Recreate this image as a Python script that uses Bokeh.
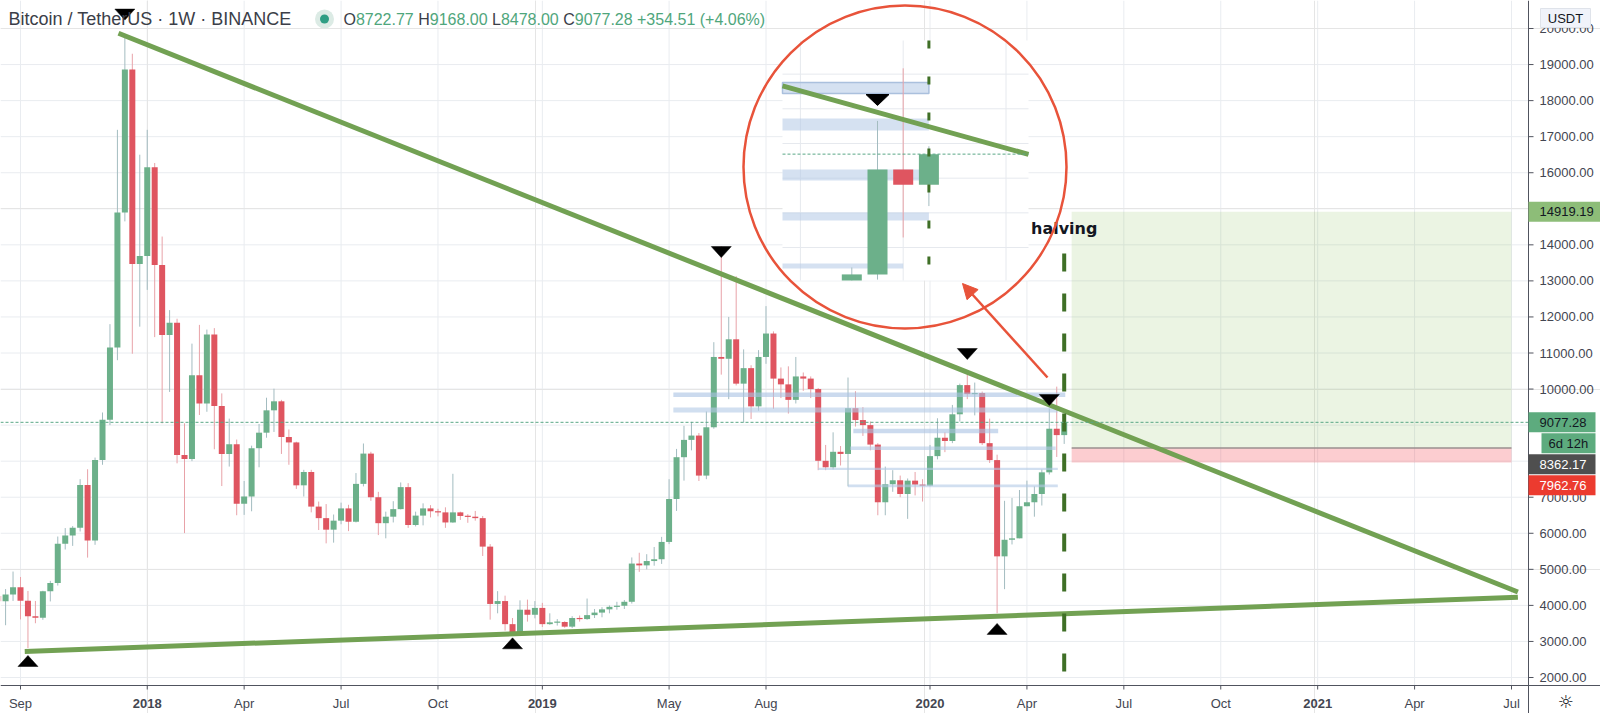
import pandas as pd
from bokeh.plotting import figure
from bokeh.models import Range1d, Arrow, NormalHead, ColumnDataSource
from bokeh.core.properties import value
from bokeh.embed import file_html
from bokeh.resources import INLINE

# ------------------------------------------------------------------ data
first_week = "2017-08-14"   # one weekly candle per week starting here

opens = [4261, 4115, 4300, 4502, 4130, 3700, 3654, 4392, 4622, 5710, 5940, 6150, 7341, 5802, 8032, 9150, 11150, 14900, 18860, 13470,
         13690, 16150, 13440, 11500, 11840, 8170, 8060, 10380, 9600, 11510, 9530, 8200, 8470, 6820, 7020, 8360, 8790, 9410, 9660, 8670,
         8520, 7330, 7700, 6740, 6420, 6100, 6350, 6690, 6320, 7370, 8210, 7000, 6280, 6460, 6670, 7280, 6230, 6490, 6690, 6610,
         6580, 6300, 6580, 6480, 6460, 6420, 5630, 4040, 4120, 3480, 3190, 3880, 3740,
         3930, 3480, 3530, 3540, 3410, 3650, 3620, 3730, 3800, 3890, 3960, 3990, 4100, 5160, 5110, 5230, 5280, 5760, 6950, 8110,
         8590, 8710, 7600, 8940, 10890, 10840, 11380, 10150, 10580, 9520, 10890, 11540, 10290, 10130, 9700, 10350, 10290, 10000, 8010, 7830,
         8260, 8200, 9470, 9140, 9000, 8460, 6860, 7360, 7470, 7090, 7460, 7350,
         7320, 8140, 8650, 8560, 9300, 10110, 9860, 9890, 8500, 8030, 5360, 5820, 5860, 6750, 6860, 7090, 7690, 8900, 8722.77]
highs = [4485, 4453, 4939, 4788, 4400, 4123, 4406, 4680, 5910, 6145, 6200, 7500, 7776, 8100, 9350, 11800, 17190, 19790, 19300, 16500,
         17190, 16270, 14230, 12190, 11950, 9050, 11260, 11780, 11650, 11690, 9880, 9180, 8600, 7450, 8430, 9030, 9760, 10010, 9700, 8880,
         8540, 7760, 7760, 6880, 6810, 6520, 6850, 6790, 7670, 8490, 8260, 7150, 6600, 6890, 7410, 7390, 6600, 6830, 6780, 6680,
         6720, 7650, 6600, 6530, 6620, 6480, 5700, 4395, 4270, 3650, 4140, 4160, 4120,
         4070, 3780, 3620, 3560, 3700, 3720, 4190, 3900, 3950, 4000, 4100, 4150, 5330, 5460, 5420, 5620, 5900, 7500, 8340, 8980,
         9090, 8780, 9380, 11300, 13960, 12000, 13130, 11100, 10660, 11080, 12300, 11600, 10600, 10630, 10890, 10460, 10350, 10030, 8450, 8800,
         8420, 10320, 9940, 9500, 9100, 8500, 7850, 7750, 7600, 7520, 7700, 7500,
         8450, 9190, 8800, 9560, 10150, 10480, 10180, 9930, 9180, 8180, 6900, 6980, 7200, 7460, 7300, 7770, 9460, 10067, 9168.00]
lows = [3850, 3450, 4124, 3610, 2817, 3505, 3600, 4110, 4550, 5550, 5650, 6050, 5325, 5680, 7900, 9000, 10800, 14650, 10980, 11730,
        12750, 11440, 9050, 9920, 7940, 6005, 8000, 9280, 9370, 8330, 7310, 7850, 6500, 6510, 6610, 7830, 8650, 8810, 8200, 7900,
        7230, 7020, 6580, 6090, 5720, 5740, 6250, 6060, 6300, 7300, 6900, 5950, 5860, 6300, 6660, 6150, 6190, 6220, 6440, 6470,
        6150, 6290, 6370, 6290, 6350, 5370, 3605, 3780, 3300, 3156, 3180, 3550, 3640,
        3400, 3460, 3440, 3380, 3370, 3550, 3600, 3650, 3670, 3780, 3880, 3900, 4050, 4930, 5000, 5100, 5150, 5700, 6620, 7460,
        8300, 7450, 7500, 8900, 10400, 9720, 10100, 9070, 9170, 9400, 10700, 9450, 9750, 9320, 9600, 9950, 9750, 7750, 7750, 7770,
        7880, 7300, 8960, 8700, 8300, 6500, 6500, 7150, 7000, 6400, 7050, 6880,
        7300, 8050, 8250, 8500, 9100, 9720, 9270, 8450, 7950, 3782, 4450, 5690, 5860, 6750, 6460, 6770, 7630, 8116, 8478.00]
closes = [4115, 4300, 4502, 4130, 3700, 3654, 4392, 4622, 5710, 5940, 6150, 7341, 5802, 8032, 9150, 11150, 14900, 18860, 13470, 13690,
          16150, 13440, 11500, 11840, 8170, 8060, 10380, 9600, 11510, 9530, 8200, 8470, 6820, 7020, 8360, 8790, 9410, 9660, 8670, 8520,
          7330, 7700, 6740, 6420, 6100, 6350, 6690, 6320, 7370, 8210, 7000, 6280, 6460, 6670, 7280, 6230, 6490, 6690, 6610, 6580,
          6300, 6580, 6480, 6460, 6420, 5630, 4040, 4120, 3480, 3190, 3880, 3740, 3930,
          3480, 3530, 3540, 3410, 3650, 3620, 3730, 3800, 3890, 3960, 3990, 4100, 5160, 5110, 5230, 5280, 5760, 6950, 8110, 8590,
          8710, 7600, 8940, 10890, 10840, 11380, 10150, 10580, 9520, 10890, 11540, 10290, 10130, 9700, 10350, 10290, 10000, 8010, 7830, 8260,
          8200, 9470, 9140, 9000, 8460, 6860, 7360, 7470, 7090, 7460, 7350, 7320,
          8140, 8650, 8560, 9300, 10110, 9860, 9890, 8500, 8030, 5360, 5820, 5860, 6750, 6860, 7090, 7690, 8900, 8722.77, 9077.28]

tick_dates = ["2017-09-04", "2018-01-01", "2018-04-02", "2018-07-02", "2018-10-01", "2019-01-07", "2019-05-06",
              "2019-08-05", "2020-01-06", "2020-04-06", "2020-07-06", "2020-10-05", "2021-01-04", "2021-04-05", "2021-07-05"]
tick_labels = ["Sep", "2018", "Apr", "Jul", "Oct", "2019", "May", "Aug", "2020", "Apr", "Jul", "Oct", "2021", "Apr", "Jul"]
price_ticks = list(range(2000, 20001, 1000))

# horizontal zones (price low/high, start, end, end inside the zoomed inset)
band_lo = [9777, 9350, 8773, 8312, 7758, 7280]
band_hi = [9903, 9488, 8900, 8404, 7816, 7350]
band_start = ["2019-05-10", "2019-05-10", "2019-10-26", "2019-10-23", "2019-09-23", "2019-10-21"]
band_end = ["2020-05-12", "2020-05-05", "2020-03-10", "2020-05-03", "2020-05-05", "2020-05-05"]
band_end_inset = ["2020-05-11", "2020-05-11", "2020-05-09", "2020-05-11", "2020-05-04", "2020-05-05"]

# trend lines (date, price) -> (date, price)
resist = (("2017-12-05", 19867), ("2021-07-11", 4370))
support = (("2017-09-08", 2721), ("2021-07-11", 4225))

# pivot markers: date, tip price, direction
mark_dates = ["2017-12-11", "2017-09-11", "2018-12-10", "2019-06-24", "2020-02-10", "2020-03-09", "2020-04-27"]
mark_tips = [20233, 2610, 3100, 13647, 10819, 3500, 9543]
mark_down = [True, False, False, True, True, False, True]
inset_mark = ("2020-04-27", 9638)

halving_date = "2020-05-11"
halving_top, halving_bottom = 13758, 2111
box_start, box_end = "2020-05-18", "2021-07-05"
target_price, entry_price, stop_price = 14919.19, 8362.17, 7962.76
countdown = "6d 12h"
currency = "USDT"

# ------------------------------------------------------------------ layout helpers
W, H = 1600, 713
REF = pd.Timestamp("2017-09-04")
DAY_MS = 86400000.0
X_AT_REF, PX_DAY = 20.0, 1.065          # px of REF date, px per day
Y_AT_2000, PX_USD = 677.0, 649.0 / 18000.0
AX_X = 1528                              # price-scale line
TA_Y = 685                               # time-axis line


def day_of(s):
    return (pd.Timestamp(s) - REF).total_seconds() / 86400.0


def ms_of_day(d):
    return REF.value / 1e6 + d * DAY_MS


def dx(s):
    return ms_of_day(day_of(s))


def px2x(px):
    return ms_of_day((px - X_AT_REF) / PX_DAY)


def px2y(py):
    return 2000 + (Y_AT_2000 - py) / PX_USD


def y2px(v):
    return Y_AT_2000 - (v - 2000) * PX_USD


# inset (zoomed copy) mapping
IN_D0, IN_KX = 966.0, 25.7 / 7.0
IN_X0 = 877.0
IN_P0, IN_KY = 8900.0, 0.0867
IN_Y0 = 169.0
IN_L, IN_R, IN_T, IN_B = 782.0, 1028.0, 40.0, 280.0


def inset_px(d):
    return IN_X0 + (d - IN_D0) * IN_KX


def inset_py(v):
    return IN_Y0 - (v - IN_P0) * IN_KY


UP, DOWN = "#6cb08a", "#df5560"
UP_WICK, DOWN_WICK = "#a3bcc0", "#e8a2a8"
LINE_GREEN = "#72a153"
GRID = "#e9ecf0"
AXIS = "#50535e"
LABEL = "#434651"
FONT = "Liberation Sans"

p = figure(x_axis_type="datetime", x_range=Range1d(px2x(0), px2x(W)),
           y_range=Range1d(px2y(H), px2y(0)), width=W, height=H,
           x_axis_location=None, y_axis_location=None, toolbar_location=None,
           output_backend="svg", min_border=0)
p.outline_line_color = None
p.background_fill_color = "white"
p.border_fill_color = "white"

# ------------------------------------------------------------------ grids
tx = [dx(t) for t in tick_dates]
n = len(price_ticks)
p.segment(x0=[px2x(0)] * n, y0=price_ticks, x1=[px2x(AX_X)] * n, y1=price_ticks,
          line_color=GRID, line_width=1, level="underlay")
p.segment(x0=tx, y0=[px2y(TA_Y)] * len(tx), x1=tx, y1=[px2y(0)] * len(tx),
          line_color=GRID, line_width=1, level="underlay")

# ------------------------------------------------------------------ position tool boxes
p.quad(left=[dx(box_start)], right=[dx(box_end)], bottom=[entry_price], top=[target_price],
       fill_color="#7cb342", fill_alpha=0.15, line_color=None)
p.quad(left=[dx(box_start)], right=[dx(box_end)], bottom=[stop_price], top=[entry_price],
       fill_color="#f23645", fill_alpha=0.25, line_color=None)
p.segment(x0=[dx(box_start)], y0=[entry_price], x1=[dx(box_end)], y1=[entry_price],
          line_color="#9a8f8f", line_width=1.5)

# ------------------------------------------------------------------ candles
wd = [day_of(first_week) + 7 * i for i in range(len(opens))]
xs = [ms_of_day(d) for d in wd]
min_h = 1.2 / PX_USD
tops, bots = [], []
for o, c in zip(opens, closes):
    t, b = max(o, c), min(o, c)
    if t - b < min_h:
        m = (t + b) / 2
        t, b = m + min_h / 2, m - min_h / 2
    tops.append(t)
    bots.append(b)
cols = [UP if c >= o else DOWN for o, c in zip(opens, closes)]
wcols = [UP_WICK if c >= o else DOWN_WICK for o, c in zip(opens, closes)]
src = ColumnDataSource(dict(x=xs, top=tops, bottom=bots, high=highs, low=lows, color=cols, wick=wcols))
p.segment(x0="x", y0="low", x1="x", y1="high", line_color="wick", line_width=1, source=src)
p.vbar(x="x", width=6.0 / PX_DAY * DAY_MS, top="top", bottom="bottom", fill_color="color",
       line_color=None, source=src)

# zones
band_fill = ["#a9c2e2", "#b3c9e6", "#a9c2e2", "#b3c9e6", "#b3c9e6", "#b3c9e6"]
p.quad(left=[dx(s) for s in band_start], right=[dx(e) for e in band_end],
       bottom=band_lo, top=band_hi, fill_color=band_fill, fill_alpha=0.6, line_color=None)

# trend lines
for (a, b) in (resist, support):
    p.segment(x0=[dx(a[0])], y0=[a[1]], x1=[dx(b[0])], y1=[b[1]], line_color=LINE_GREEN, line_width=5)

# halving line + label
hx = dx(halving_date)
p.segment(x0=[hx], y0=[halving_top], x1=[hx], y1=[halving_bottom], line_color="#3f6f26",
          line_width=4, line_dash="18 22")
p.text(x=[hx], y=[px2y(227.5)], text=["halving"], text_font=value("DejaVu Sans"),
       text_font_size=value("16px"), text_font_style="bold", text_color="#131722",
       text_align="center", text_baseline="middle")

# pivot markers
half_w = 10.0 / PX_DAY
tri_h = 11.0 / PX_USD
txs, tys = [], []
for dstr, tip, dn in zip(mark_dates, mark_tips, mark_down):
    d = day_of(dstr)
    base = tip + tri_h if dn else tip - tri_h
    txs.append([ms_of_day(d - half_w), ms_of_day(d + half_w), ms_of_day(d)])
    tys.append([base, base, tip])
p.patches(xs=txs, ys=tys, fill_color="black", line_color="black", line_width=0.5)

# current price line
p.segment(x0=[px2x(0)], y0=[closes[-1]], x1=[px2x(AX_X)], y1=[closes[-1]],
          line_color="#5aa786", line_dash="3 2", line_width=1)

# ------------------------------------------------------------------ zoomed inset
p.quad(left=[px2x(IN_L)], right=[px2x(IN_R)], bottom=[px2y(IN_B)], top=[px2y(IN_T)],
       fill_color="white", line_color=None)
ig = [v for v in range(7600, 10801, 400) if IN_T <= inset_py(v) <= IN_B]
p.segment(x0=[px2x(IN_L)] * len(ig), y0=[px2y(inset_py(v)) for v in ig],
          x1=[px2x(IN_R)] * len(ig), y1=[px2y(inset_py(v)) for v in ig], line_color="#e6e9ee")
ivd = [day_of(s) for s in ("2020-04-06", "2020-05-04", "2020-06-01")]
p.segment(x0=[px2x(inset_px(d)) for d in ivd], y0=[px2y(IN_T)] * 3,
          x1=[px2x(inset_px(d)) for d in ivd], y1=[px2y(IN_B)] * 3, line_color="#e6e9ee")
vis = [IN_T < inset_py(v) < IN_B for v in band_lo]
p.quad(left=[px2x(IN_L)] * len(band_lo),
       right=[px2x(min(inset_px(day_of(e)), IN_R)) for e in band_end_inset],
       bottom=[px2y(min(inset_py(v), IN_B)) for v in band_lo],
       top=[px2y(max(inset_py(v), IN_T)) for v in band_hi],
       fill_color="#b3c9e6", fill_alpha=[0.55 if v else 0 for v in vis],
       line_color="#aac0dd", line_alpha=[1, 0, 0, 0, 0, 0], line_width=1.5)


def clip(v):
    return min(max(v, IN_T), IN_B)


ib = dict(x=[], top=[], bottom=[], color=[])
iw = dict(x=[], y0=[], y1=[], color=[])
for d, o, h, l, c in zip(wd, opens, highs, lows, closes):
    xi = inset_px(d)
    if xi < IN_L + 8 or xi > IN_R - 8:
        continue
    yh, yl = inset_py(h), inset_py(l)
    if yl > IN_T and yh < IN_B:
        iw["x"].append(px2x(xi))
        iw["y0"].append(px2y(clip(yh)))
        iw["y1"].append(px2y(clip(yl)))
        iw["color"].append(UP_WICK if c >= o else DOWN_WICK)
    yt, yb = inset_py(max(o, c)), inset_py(min(o, c))
    if yb > IN_T and yt < IN_B:
        ib["x"].append(px2x(xi))
        ib["top"].append(px2y(clip(yt)))
        ib["bottom"].append(px2y(clip(yb)))
        ib["color"].append(UP if c >= o else DOWN)
p.segment(x0="x", y0="y0", x1="x", y1="y1", line_color="color", line_width=1, source=ColumnDataSource(iw))
p.vbar(x="x", top="top", bottom="bottom", width=20.0 / PX_DAY * DAY_MS, fill_color="color",
       line_color=None, source=ColumnDataSource(ib))

(ra, rb) = resist
da, pa, db, pb = day_of(ra[0]), ra[1], day_of(rb[0]), rb[1]
d_lo = IN_D0 + (IN_L - IN_X0) / IN_KX
d_hi = IN_D0 + (IN_R - IN_X0) / IN_KX
r_lo = pa + (d_lo - da) * (pb - pa) / (db - da)
r_hi = pa + (d_hi - da) * (pb - pa) / (db - da)
p.segment(x0=[px2x(IN_L)], y0=[px2y(inset_py(r_lo))], x1=[px2x(IN_R)], y1=[px2y(inset_py(r_hi))],
          line_color=LINE_GREEN, line_width=5)
p.segment(x0=[px2x(IN_L)], y0=[px2y(inset_py(closes[-1]))], x1=[px2x(IN_R)], y1=[px2y(inset_py(closes[-1]))],
          line_color="#5aa786", line_dash="3 2", line_width=1)
hix = px2x(inset_px(day_of(halving_date)))
p.segment(x0=[hix], y0=[px2y(IN_T)], x1=[hix], y1=[px2y(IN_B)], line_color="#3f6f26",
          line_width=3, line_dash="8 28")
imx = inset_px(day_of(inset_mark[0]))
imy = inset_py(inset_mark[1])
p.patch(x=[px2x(imx - 11.5), px2x(imx + 11.5), px2x(imx)], y=[px2y(imy - 11), px2y(imy - 11), px2y(imy)],
        fill_color="black", line_color="black")

# magnifier circle + arrow
p.scatter(x=[px2x(904.5)], y=[px2y(166.5)], marker="circle", size=323, fill_color=None,
          line_color="#e8533a", line_width=2.5)
p.add_layout(Arrow(x_start=px2x(1047), y_start=px2y(377), x_end=px2x(962), y_end=px2y(283),
                   line_color="#e8533a", line_width=2.5,
                   end=NormalHead(size=15, fill_color="#e8533a", line_color="#e8533a")))

# ------------------------------------------------------------------ time axis
p.segment(x0=[px2x(0)], y0=[px2y(TA_Y)], x1=[px2x(W)], y1=[px2y(TA_Y)], line_color=AXIS, line_width=1)
p.segment(x0=tx, y0=[px2y(TA_Y)] * len(tx), x1=tx, y1=[px2y(TA_Y + 4)] * len(tx), line_color=AXIS, line_width=1)
is_year = [lab.isdigit() for lab in tick_labels]
for want_bold in (False, True):
    sel = [i for i, b in enumerate(is_year) if b == want_bold]
    p.text(x=[tx[i] for i in sel], y=[px2y(703)] * len(sel), text=[tick_labels[i] for i in sel],
           text_font=value(FONT), text_font_size=value("13px"), text_color=LABEL,
           text_align="center", text_baseline="middle",
           text_font_style="bold" if want_bold else "normal")

# ------------------------------------------------------------------ price scale
p.segment(x0=[px2x(AX_X)], y0=[px2y(H)], x1=[px2x(AX_X)], y1=[px2y(0)], line_color=AXIS, line_width=1)
p.segment(x0=[px2x(AX_X)] * n, y0=price_ticks, x1=[px2x(AX_X + 5)] * n, y1=price_ticks,
          line_color=AXIS, line_width=1)

# badges (stacked like the price scale does)
close_y = y2px(closes[-1])
badge_rows = [
    ("%.2f" % target_price, y2px(target_price), AX_X, W, "#8dbd78", "#131722"),
    ("%.2f" % closes[-1], close_y, AX_X, 1595, "#5dab7e", "#131722"),
    (countdown, close_y + 21, AX_X + 13, 1595, "#5dab7e", "#131722"),
]
prev = close_y + 21
for price, bg, fg in ((entry_price, "#4f4f4f", "#ffffff"), (stop_price, "#ec3b2f", "#ffffff")):
    yy = max(y2px(price), prev + 21)
    badge_rows.append(("%.2f" % price, yy, AX_X, 1595, bg, fg))
    prev = yy
badge_y = [r[1] for r in badge_rows]

shown = [v for v in price_ticks if all(abs(y2px(v) - by) > 6 for by in badge_y)]
p.text(x=[px2x(AX_X + 11)] * len(shown), y=shown, text=["%.2f" % v for v in shown],
       text_font=value(FONT), text_font_size=value("13px"), text_color=LABEL,
       text_align="left", text_baseline="middle")

p.quad(left=[px2x(r[2]) for r in badge_rows], right=[px2x(r[3]) for r in badge_rows],
       bottom=[px2y(r[1] + 10) for r in badge_rows], top=[px2y(r[1] - 10) for r in badge_rows],
       fill_color=[r[4] for r in badge_rows], line_color=None)
p.text(x=[px2x(AX_X + 11 if r[2] == AX_X else r[2] + 7) for r in badge_rows], y=[px2y(r[1]) for r in badge_rows],
       text=[r[0] for r in badge_rows], text_color=[r[5] for r in badge_rows],
       text_font=value(FONT), text_font_size=value("13px"), text_align="left", text_baseline="middle")

# currency tag and settings icon
p.quad(left=[px2x(1540)], right=[px2x(1590)], bottom=[px2y(27)], top=[px2y(8)],
       fill_color="#f0f3fa", line_color="#dfe3ea")
p.text(x=[px2x(1565)], y=[px2y(17.5)], text=[currency], text_font=value(FONT),
       text_font_size=value("13px"), text_color="#131722", text_align="center", text_baseline="middle")
p.text(x=[px2x(1565)], y=[px2y(701)], text=["☼"], text_font=value("DejaVu Sans"),
       text_font_size=value("18px"), text_color="#131722", text_align="center", text_baseline="middle")

# ------------------------------------------------------------------ legend header
p.text(x=[px2x(8)], y=[px2y(18.5)], text=["Bitcoin / TetherUS · 1W · BINANCE"], text_font=value(FONT),
       text_font_size=value("18px"), text_color="#3b3e48", text_align="left", text_baseline="middle")
p.scatter(x=[px2x(324)], y=[px2y(18.5)], marker="circle", size=19, fill_color="#dcebe5", line_color=None)
p.scatter(x=[px2x(324)], y=[px2y(18.5)], marker="circle", size=9, fill_color="#2f9e84", line_color=None)
chg = closes[-1] - closes[-2]
pct = chg / closes[-2] * 100
letters = ["O", "H", "L", "C"]
nums = ["%.2f" % v for v in (opens[-1], highs[-1], lows[-1], closes[-1])]
lx = [343, 417.7, 491.5, 562.7]
lw = [12.4, 11.6, 8.9, 11.6]
p.text(x=[px2x(v) for v in lx], y=[px2y(18.5)] * 4, text=letters, text_font=value(FONT),
       text_font_size=value("16px"), text_color="#3b3e48", text_align="left", text_baseline="middle")
p.text(x=[px2x(v + w) for v, w in zip(lx, lw)] + [px2x(636.5)], y=[px2y(18.5)] * 5,
       text=nums + ["%+.2f (%+.2f%%)" % (chg, pct)], text_font=value(FONT),
       text_font_size=value("16px"), text_color="#4fa67c", text_align="left", text_baseline="middle")

open("out.html", "w").write(file_html(p, INLINE))
